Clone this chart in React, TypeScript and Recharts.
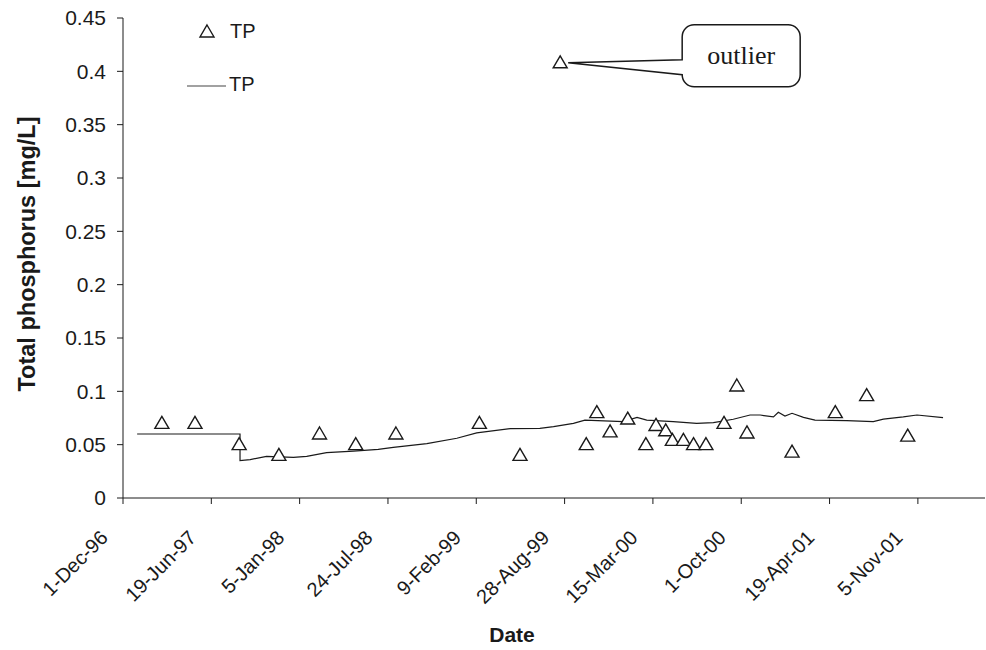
import React from 'react';
import {
  ComposedChart,
  Line,
  Scatter,
  XAxis,
  YAxis,
  Legend,
  ReferenceDot,
} from 'recharts';

// measured TP samples
const sampleDates = [
  '1997-02-27', '1997-05-13', '1997-08-21', '1997-11-19', '1998-02-19',
  '1998-05-12', '1998-08-11', '1999-02-16', '1999-05-19', '1999-08-18',
  '1999-10-16', '1999-11-09', '1999-12-09', '2000-01-18', '2000-02-28',
  '2000-03-22', '2000-04-13', '2000-04-28', '2000-05-23', '2000-06-15',
  '2000-07-13', '2000-08-23', '2000-09-21', '2000-10-14', '2001-01-24',
  '2001-05-02', '2001-07-12', '2001-10-13',
];
const sampleTP = [
  0.07, 0.07, 0.05, 0.04, 0.06,
  0.05, 0.06, 0.07, 0.04, 0.408,
  0.05, 0.08, 0.062, 0.074, 0.05,
  0.068, 0.063, 0.054, 0.054, 0.05,
  0.05, 0.07, 0.105, 0.061, 0.043,
  0.08, 0.096, 0.058,
];

// simulated TP (continuous line)
const lineDates = [
  '1997-01-02', '1997-08-23', '1997-08-23', '1997-09-15', '1997-10-22',
  '1997-12-22', '1998-01-21', '1998-03-07', '1998-05-07', '1998-07-02',
  '1998-08-05', '1998-10-20', '1998-12-27', '1999-02-10', '1999-04-27',
  '1999-07-03', '1999-08-03', '1999-09-17', '1999-10-13', '2000-01-08',
  '2000-02-08', '2000-03-01', '2000-04-30', '2000-06-22', '2000-07-30',
  '2000-09-13', '2000-10-21', '2000-11-13', '2000-12-13', '2000-12-24',
  '2001-01-08', '2001-01-24', '2001-02-19', '2001-03-17', '2001-05-28',
  '2001-07-27', '2001-08-19', '2001-10-03', '2001-11-03', '2002-01-01',
];
const lineTP = [
  0.06, 0.06, 0.035, 0.036, 0.039,
  0.038, 0.039, 0.0425, 0.044, 0.0456,
  0.0475, 0.051, 0.056, 0.061, 0.065,
  0.0653, 0.067, 0.07, 0.073, 0.0716,
  0.0756, 0.073, 0.0716, 0.07, 0.0706,
  0.0738, 0.0778, 0.0778, 0.076, 0.0803,
  0.0769, 0.0794, 0.0756, 0.073, 0.0725,
  0.0716, 0.074, 0.076, 0.0778, 0.0753,
];

const tickDates = [
  '1996-12-01', '1997-06-19', '1998-01-05', '1998-07-24', '1999-02-09',
  '1999-08-28', '2000-03-15', '2000-10-01', '2001-04-19', '2001-11-05',
];
const axisRange = ['1996-12-01', '2002-04-06'];
const yTicks = [0, 0.05, 0.1, 0.15, 0.2, 0.25, 0.3, 0.35, 0.4, 0.45];

const MONTHS = ['Jan', 'Feb', 'Mar', 'Apr', 'May', 'Jun', 'Jul', 'Aug', 'Sep', 'Oct', 'Nov', 'Dec'];
const DAY = 86400000;

const toDay = (s: string) => {
  const [y, m, d] = s.split('-').map(Number);
  return Date.UTC(y, m - 1, d) / DAY;
};

const fmtDay = (v: number) => {
  const d = new Date(Math.round(v) * DAY);
  const yy = String(d.getUTCFullYear() % 100).padStart(2, '0');
  return `${d.getUTCDate()}-${MONTHS[d.getUTCMonth()]}-${yy}`;
};

const samples = sampleDates.map((s, i) => ({ t: toDay(s), tp: sampleTP[i] }));
const simulated = lineDates.map((s, i) => ({ t: toDay(s), tp: lineTP[i] }));
const outlier = samples[sampleTP.indexOf(Math.max(...sampleTP))];

const FONT = '"Liberation Sans", Arial, Helvetica, sans-serif';
const INK = '#1a1a1a';

const trianglePath = (cx: number, cy: number) =>
  `M${cx},${cy - 7} L${cx + 7},${cy + 5} L${cx - 7},${cy + 5} Z`;

const TriangleDot = (props: any) => {
  const { cx, cy } = props;
  if (cx == null || cy == null) return null;
  return <path d={trianglePath(cx, cy)} fill="#fff" stroke={INK} strokeWidth={1.4} />;
};

const DateTick = (props: any) => {
  const { x, y, payload } = props;
  return (
    <g transform={`translate(${x - 14},${y + 33})`}>
      <text textAnchor="end" transform="rotate(-45)" fontSize={20} fontFamily={FONT} fill={INK}>
        {fmtDay(payload.value)}
      </text>
    </g>
  );
};

const YTitle = (props: any) => {
  const { viewBox } = props;
  const cx = viewBox.x + 27;
  const cy = viewBox.y + viewBox.height / 2 - 4;
  return (
    <text
      x={cx}
      y={cy}
      transform={`rotate(-90,${cx},${cy})`}
      textAnchor="middle"
      dominantBaseline="central"
      fontSize={23.5}
      fontWeight="bold"
      fontFamily={FONT}
      fill={INK}
    >
      Total phosphorus [mg/L]
    </text>
  );
};

const XTitle = (props: any) => {
  const { viewBox } = props;
  return (
    <text
      x={viewBox.x + 389}
      y={viewBox.y + 144}
      textAnchor="middle"
      fontSize={21}
      fontWeight="bold"
      fontFamily={FONT}
      fill={INK}
    >
      Date
    </text>
  );
};

const Callout = (props: any) => {
  const { cx, cy } = props;
  if (cx == null || cy == null) return null;
  const L = cx + 122;
  const R = cx + 240;
  const T = cy - 38;
  const B = cy + 24;
  const r = 12;
  const d = [
    `M${L},${T + r}`,
    `A${r},${r} 0 0 1 ${L + r},${T}`,
    `H${R - r}`,
    `A${r},${r} 0 0 1 ${R},${T + r}`,
    `V${B - r}`,
    `A${r},${r} 0 0 1 ${R - r},${B}`,
    `H${L + r}`,
    `A${r},${r} 0 0 1 ${L},${B - r}`,
    `L${cx + 8},${cy}`,
    `L${L},${cy - 3}`,
    'Z',
  ].join(' ');
  return (
    <g>
      <path d={d} fill="#fff" stroke={INK} strokeWidth={1.5} />
      <text
        x={(L + R) / 2}
        y={(T + B) / 2}
        textAnchor="middle"
        dominantBaseline="central"
        fontSize={26}
        fontFamily='"Liberation Serif", "Times New Roman", serif'
        fill={INK}
      >
        outlier
      </text>
    </g>
  );
};

const LegendBox = () => (
  <svg width={300} height={110} style={{ display: 'block' }}>
    <path d={trianglePath(207, 32)} fill="#fff" stroke={INK} strokeWidth={1.4} />
    <text x={230} y={38} fontSize={20} fontFamily={FONT} fill={INK}>TP</text>
    <line x1={187} y1={86} x2={226} y2={86} stroke="#444" strokeWidth={1.2} />
    <text x={229} y={91} fontSize={20} fontFamily={FONT} fill={INK}>TP</text>
  </svg>
);

const App = () => {
  return (
    <div style={{ position: 'absolute', left: 0, top: 0, background: '#fff' }}>
      <ComposedChart
        width={986}
        height={650}
        margin={{ top: 18, right: 1, bottom: 0, left: 0 }}
      >
        <XAxis
          type="number"
          dataKey="t"
          domain={axisRange.map(toDay)}
          ticks={tickDates.map(toDay)}
          allowDataOverflow
          height={152}
          tickSize={6}
          tickMargin={2}
          stroke={INK}
          tick={<DateTick />}
          label={<XTitle />}
        />
        <YAxis
          type="number"
          domain={[0, 0.45]}
          ticks={yTicks}
          width={123}
          tickSize={6}
          tickMargin={11}
          stroke={INK}
          tick={{ fontSize: 21, fontFamily: FONT, fill: INK }}
          label={<YTitle />}
        />
        <Legend
          layout="vertical"
          align="center"
          verticalAlign="middle"
          wrapperStyle={{ position: 'absolute', left: 0, top: 0, width: 300, height: 110 }}
          content={<LegendBox />}
        />
        <Line
          data={simulated}
          dataKey="tp"
          name="TP"
          type="linear"
          stroke={INK}
          strokeWidth={1.2}
          dot={false}
          activeDot={false}
          isAnimationActive={false}
        />
        <Scatter
          data={samples}
          dataKey="tp"
          name="TP"
          shape={<TriangleDot />}
          isAnimationActive={false}
        />
        <ReferenceDot
          x={outlier.t}
          y={outlier.tp}
          r={0}
          ifOverflow="visible"
          shape={(p: any) => <Callout cx={p.cx} cy={p.cy} />}
        />
      </ComposedChart>
    </div>
  );
};

export default App;
